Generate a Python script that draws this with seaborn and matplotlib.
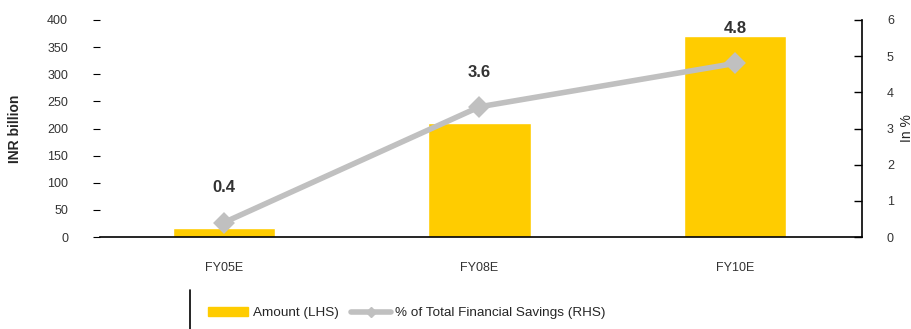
import matplotlib
matplotlib.use("Agg")
import matplotlib.pyplot as plt
import seaborn as sns
import pandas as pd
from matplotlib.lines import Line2D

categories = ["FY05E", "FY08E", "FY10E"]
amount = [16, 211, 370]
pct_savings = [0.4, 3.6, 4.8]
pct_labels = ["0.4", "3.6", "4.8"]

sns.set_theme(style="white")
plt.rcParams['font.family'] = ['Liberation Sans', 'DejaVu Sans']

df = pd.DataFrame({"cat": categories, "amount": amount, "pct": pct_savings})

fig = plt.figure(figsize=(9.12, 3.29), dpi=100)
ax = fig.add_axes([100/912, 1-237/329, (862-100)/912, (237-20)/329])

bar_color = "#FFCC00"
line_color = "#C0C0C0"

sns.barplot(data=df, x="cat", y="amount", color=bar_color, width=0.40,
            saturation=1, ax=ax)
ax.set_ylim(0, 400)
ax.set_yticks(range(0, 401, 50))
ax.set_xlim(-0.485, 2.497)
ax.set_xlabel("")
ax.set_ylabel("INR billion", fontsize=10, fontweight="bold", labelpad=18)
for s in ["left", "top", "right"]:
    ax.spines[s].set_visible(False)
ax.spines["bottom"].set_color("black")
ax.spines["bottom"].set_linewidth(1.2)
ax.tick_params(axis="y", left=True, length=5, width=0.8, color="black",
               pad=18, labelsize=9, labelcolor="#333333")
ax.tick_params(axis="x", bottom=False, pad=12, labelsize=9, labelcolor="#333333")

ax2 = ax.twinx()
sns.pointplot(data=df, x="cat", y="pct", color=line_color, markers="D",
              markersize=8, linewidth=4, ax=ax2)
ax2.set_ylim(0, 6)
ax2.set_yticks(range(0, 7))
ax2.set_xlim(-0.485, 2.497)
ax2.set_ylabel("In %", fontsize=10, labelpad=4, rotation=90)
for s in ["left", "top", "bottom"]:
    ax2.spines[s].set_visible(False)
ax2.spines["right"].set_visible(True)
ax2.spines["right"].set_color("black")
ax2.spines["right"].set_linewidth(1.2)
ax2.tick_params(axis="y", right=True, direction="in", length=6, width=1,
                color="black", pad=18, labelsize=9, labelcolor="#333333")

for i, (v, t) in enumerate(zip(pct_savings, pct_labels)):
    ax2.annotate(t, (i, v), xytext=(0, 25), textcoords="offset points",
                 ha="center", va="center", fontsize=12, fontweight="bold",
                 color="#333333")

for a in (ax, ax2):
    if a.get_legend() is not None:
        a.get_legend().remove()

handles = [
    plt.Rectangle((0, 0), 1, 1, color=bar_color),
    Line2D([0], [0], color=line_color, lw=4, marker="D", markersize=5),
]
fig.legend(handles, ["Amount (LHS)", "% of Total Financial Savings (RHS)"],
           loc="center", bbox_to_anchor=(0.446, 1-313/329), ncol=2, frameon=False,
           fontsize=9.7, handlelength=3.0, handletextpad=0.3, columnspacing=0.9)

fig.add_artist(Line2D([190/912, 190/912], [0, 1-290/329], color="black", lw=1.2))

fig.savefig("out.png", dpi=100)
